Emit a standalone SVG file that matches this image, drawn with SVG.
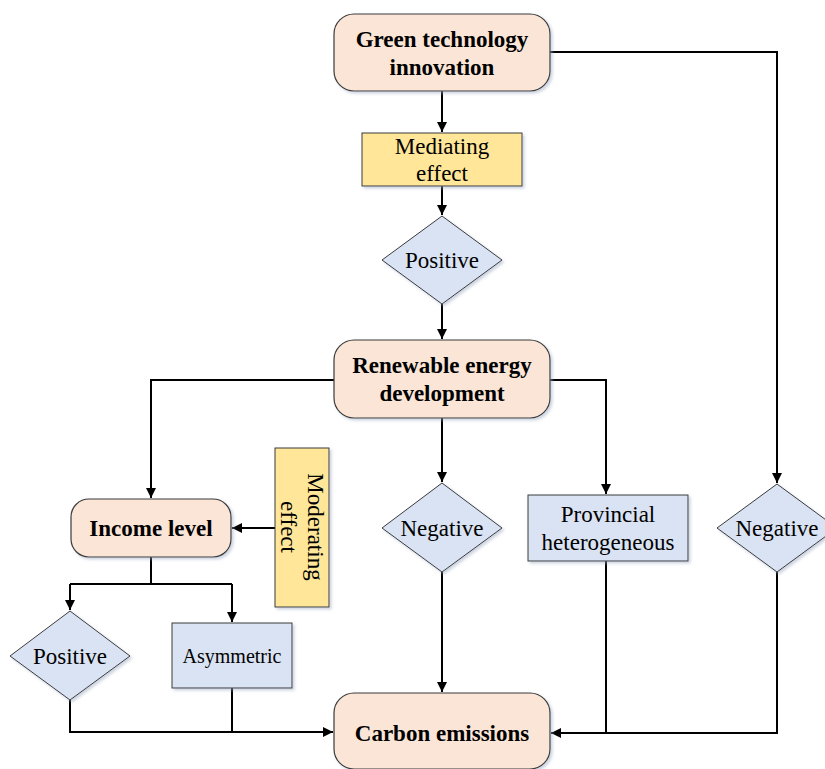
<svg xmlns="http://www.w3.org/2000/svg" width="825" height="769" viewBox="0 0 825 769">
<style>
.rn{fill:#FBE5D6;stroke:#3a3a3a;stroke-width:1.2}
.yl{fill:#FFE699;stroke:#3a3a3a;stroke-width:1}
.bl{fill:#DAE3F3;stroke:#3a3a3a;stroke-width:1}
.tb{font-family:"Liberation Serif","Times New Roman",serif;font-weight:bold;font-size:23px;fill:#000;text-anchor:middle}
.t{font-family:"Liberation Serif","Times New Roman",serif;font-size:23px;fill:#000;text-anchor:middle}
.ts{font-family:"Liberation Serif","Times New Roman",serif;font-size:20px;fill:#000;text-anchor:middle}
.c{fill:none;stroke:#000;stroke-width:2}
</style>
<defs>
<marker id="ah" viewBox="0 0 10 10" refX="10" refY="5" markerWidth="10" markerHeight="10" markerUnits="userSpaceOnUse" orient="auto">
<path d="M0,0 L10,5 L0,10 z" fill="#000"/>
</marker>
<filter id="sh" x="-10%" y="-10%" width="130%" height="130%"><feDropShadow dx="2" dy="2" stdDeviation="1.5" flood-color="#9aa7c0" flood-opacity="0.5"/></filter>
</defs>
<rect width="825" height="769" fill="#fff"/>
<g id="connectors">
<path class="c" d="M442,91 V132" marker-end="url(#ah)"/>
<path class="c" d="M442,186 V215" marker-end="url(#ah)"/>
<path class="c" d="M442,304 V339" marker-end="url(#ah)"/>
<path class="c" d="M550,52 H777 V483" marker-end="url(#ah)"/>
<path class="c" d="M334,380 H151 V498" marker-end="url(#ah)"/>
<path class="c" d="M550,380 H606 V494" marker-end="url(#ah)"/>
<path class="c" d="M442,418 V482" marker-end="url(#ah)"/>
<path class="c" d="M275,528 H232" marker-end="url(#ah)"/>
<path class="c" d="M151,557 V584 M70,584 H232"/>
<path class="c" d="M70,584 V610" marker-end="url(#ah)"/>
<path class="c" d="M232,584 V622" marker-end="url(#ah)"/>
<path class="c" d="M70,700 V732 H333" marker-end="url(#ah)"/>
<path class="c" d="M232,688 V732"/>
<path class="c" d="M442,572 V692" marker-end="url(#ah)"/>
<path class="c" d="M777,572 V733 H551" marker-end="url(#ah)"/>
<path class="c" d="M606,561 V733"/>
</g>
<g id="green-tech">
<rect class="rn" x="334" y="14" width="216" height="77" rx="20" filter="url(#sh)"/>
<text class="tb" x="442" y="47">Green technology</text>
<text class="tb" x="442" y="75">innovation</text>
</g>
<g id="mediating">
<rect class="yl" x="362" y="133" width="160" height="53" filter="url(#sh)"/>
<text class="t" x="442" y="154">Mediating</text>
<text class="t" x="442" y="181">effect</text>
</g>
<g id="positive-top">
<polygon class="bl" points="442,216 502,260 442,304 382,260" filter="url(#sh)"/>
<text class="t" x="442" y="268">Positive</text>
</g>
<g id="renewable">
<rect class="rn" x="334" y="340" width="216" height="78" rx="20" filter="url(#sh)"/>
<text class="tb" x="442" y="373">Renewable energy</text>
<text class="tb" x="442" y="401">development</text>
</g>
<g id="income">
<rect class="rn" x="71" y="499" width="160" height="58" rx="18" filter="url(#sh)"/>
<text class="tb" x="151" y="536">Income level</text>
</g>
<g id="moderating">
<rect class="yl" x="275" y="448" width="54" height="159" filter="url(#sh)"/>
<g transform="rotate(90 302 527)">
<text class="t" x="302" y="521">Moderating</text>
<text class="t" x="302" y="548">effect</text>
</g>
</g>
<g id="negative-center">
<polygon class="bl" points="442,483 502,528 442,572 382,528" filter="url(#sh)"/>
<text class="t" x="442" y="536">Negative</text>
</g>
<g id="provincial">
<rect class="bl" x="528" y="495" width="160" height="66" filter="url(#sh)"/>
<text class="t" x="608" y="522">Provincial</text>
<text class="t" x="608" y="550">heterogeneous</text>
</g>
<g id="negative-right">
<polygon class="bl" points="777,484 837,528 777,572 717,528" filter="url(#sh)"/>
<text class="t" x="777" y="536">Negative</text>
</g>
<g id="positive-left">
<polygon class="bl" points="70,611 130,656 70,700 10,656" filter="url(#sh)"/>
<text class="t" x="70" y="664">Positive</text>
</g>
<g id="asymmetric">
<rect class="bl" x="172" y="623" width="120" height="65" filter="url(#sh)"/>
<text class="ts" x="232" y="663">Asymmetric</text>
</g>
<g id="carbon">
<rect class="rn" x="334" y="693" width="216" height="76" rx="20" filter="url(#sh)"/>
<text class="tb" x="442" y="741">Carbon emissions</text>
</g>
</svg>
